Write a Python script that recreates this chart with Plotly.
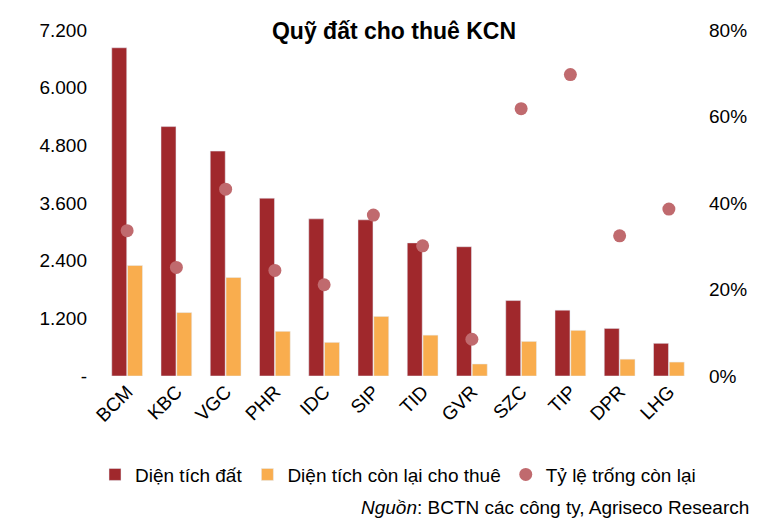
import plotly.graph_objects as go

categories = ["BCM","KBC","VGC","PHR","IDC","SIP","TID","GVR","SZC","TIP","DPR","LHG"]
dien_tich_dat = [6830,5190,4680,3700,3270,3250,2770,2690,1570,1370,990,680]
dien_tich_con_lai = [2300,1320,2050,930,700,1240,850,250,720,950,350,290]
ty_le_trong = [33.6,25.1,43.2,24.4,21.1,37.2,30.1,8.5,61.8,69.7,32.4,38.6]

left_ticks = [0,1200,2400,3600,4800,6000,7200]
left_labels = ["-","1.200","2.400","3.600","4.800","6.000","7.200"]
right_ticks = [0,20,40,60,80]
right_labels = ["0%","20%","40%","60%","80%"]

fig = go.Figure()
fig.add_bar(x=categories, y=dien_tich_dat, name="Diện tích đất", marker_color="#A0282C")
fig.add_bar(x=categories, y=dien_tich_con_lai, name="Diện tích còn lại cho thuê", marker_color="#F9AD4E")
fig.add_scatter(x=categories, y=ty_le_trong, name="Tỷ lệ trống còn lại", mode="markers",
                marker=dict(color="#C06A6E", size=13), yaxis="y2")

fig.update_layout(
    width=772, height=518, plot_bgcolor="white", paper_bgcolor="white",
    font=dict(family="Liberation Sans, Arial", size=19, color="black"),
    title=dict(text="<b>Quỹ đất cho thuê KCN</b>", x=0.5, y=0.955, xanchor="center", yanchor="middle",
               font=dict(size=23)),
    margin=dict(l=80, r=72, t=20, b=150),
    bargap=0.36, bargroupgap=0.05,
    xaxis=dict(tickangle=-45, showline=False, ticks=""),
    yaxis=dict(range=[0,7200], tickvals=left_ticks, ticktext=left_labels, showgrid=False, zeroline=False),
    yaxis2=dict(range=[0,80], tickvals=right_ticks, ticktext=right_labels, overlaying="y", side="right", showgrid=False),
    legend=dict(orientation="h", x=0.5, xanchor="center", y=-0.23, yanchor="top", font=dict(size=19)),
    annotations=[dict(text="<i>Nguồn</i>: BCTN các công ty, Agriseco Research", xref="paper", yref="paper",
                      x=1.07, y=-0.38, xanchor="right", yanchor="middle", showarrow=False, font=dict(size=19))],
)
fig.write_html("out.html")
